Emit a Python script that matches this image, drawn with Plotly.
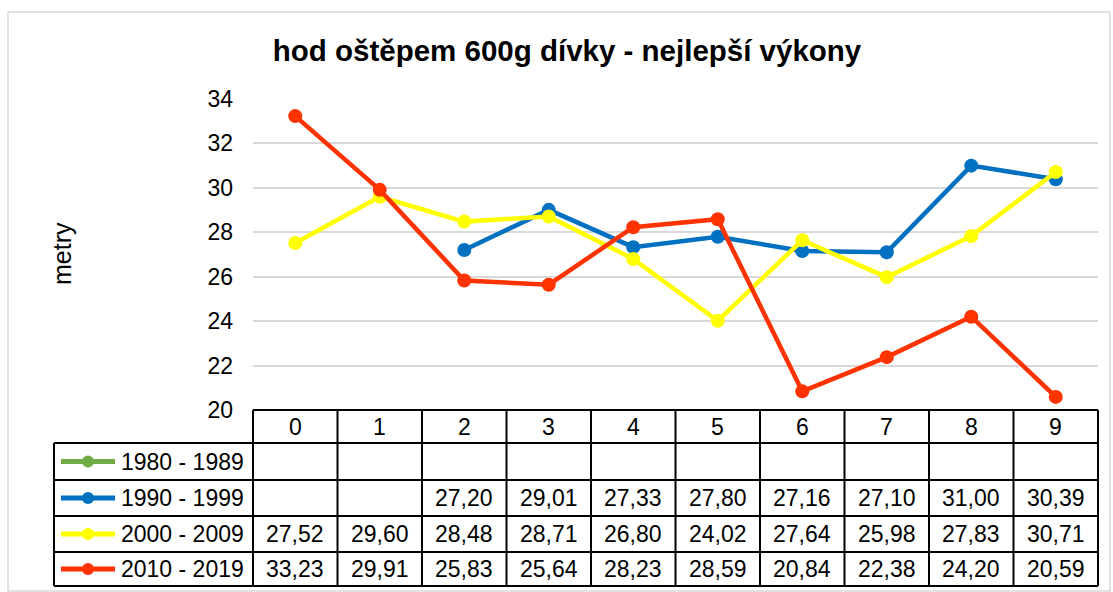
import plotly.graph_objects as go

# data
categories = ['0', '1', '2', '3', '4', '5', '6', '7', '8', '9']
series_names = ['1980 - 1989', '1990 - 1999', '2000 - 2009', '2010 - 2019']
s1980 = [None] * 10
s1990 = [None, None, 27.20, 29.01, 27.33, 27.80, 27.16, 27.10, 31.00, 30.39]
s2000 = [27.52, 29.60, 28.48, 28.71, 26.80, 24.02, 27.64, 25.98, 27.83, 30.71]
s2010 = [33.23, 29.91, 25.83, 25.64, 28.23, 28.59, 20.84, 22.38, 24.20, 20.59]
colors = ['#70AD47', '#0070C0', '#FFFF00', '#FF3300']
series = [s1980, s1990, s2000, s2010]

W, H = 1113, 592
L, R, T, B = 253, 1098, 99, 410
pw, ph = R - L, B - T
FONT = 'Liberation Sans, Arial, sans-serif'
FS = 23


def px_x(p):
    return (p - L) / pw


def px_y(p):
    return (B - p) / ph


fig = go.Figure()
for name, vals, col in zip(series_names, series, colors):
    fig.add_trace(go.Scatter(
        x=list(range(len(categories))), y=vals, name=name, mode='lines+markers',
        line=dict(color=col, width=4.5), marker=dict(color=col, size=14),
        connectgaps=False, showlegend=False))

shapes = []
annotations = []
line_style = dict(color='black', width=2)

# table geometry (pixels)
row_edges = [410, 443, 480, 516, 552, 586]
table_left = 54
ncol = len(categories)
col_edges = [px_x(L) + i / ncol * (px_x(R) - px_x(L)) for i in range(ncol + 1)]

# horizontal lines
shapes.append(dict(type='line', xref='paper', yref='paper', x0=0, x1=1,
                   y0=px_y(row_edges[0]), y1=px_y(row_edges[0]), line=line_style))
for r in row_edges[1:]:
    shapes.append(dict(type='line', xref='paper', yref='paper', x0=px_x(table_left), x1=1,
                       y0=px_y(r), y1=px_y(r), line=line_style))
# vertical lines
for cx in col_edges:
    shapes.append(dict(type='line', xref='paper', yref='paper', x0=cx, x1=cx,
                       y0=px_y(row_edges[0]), y1=px_y(row_edges[-1]), line=line_style))
shapes.append(dict(type='line', xref='paper', yref='paper', x0=px_x(table_left), x1=px_x(table_left),
                   y0=px_y(row_edges[1]), y1=px_y(row_edges[-1]), line=line_style))

# header row: category labels
hy = px_y((row_edges[0] + row_edges[1]) / 2)
for i, c in enumerate(categories):
    annotations.append(dict(x=i, y=hy, xref='x', yref='paper', text=c, showarrow=False,
                            xanchor='center', yanchor='middle',
                            font=dict(size=FS, color='black', family=FONT)))

# data rows
for k, (name, vals, col) in enumerate(zip(series_names, series, colors)):
    cy_px = (row_edges[k + 1] + row_edges[k + 2]) / 2
    cy = px_y(cy_px)
    # legend swatch
    shapes.append(dict(type='line', xref='paper', yref='paper', x0=px_x(61), x1=px_x(115),
                       y0=cy, y1=cy, line=dict(color=col, width=5)))
    shapes.append(dict(type='circle', xref='paper', yref='paper', x0=px_x(82), x1=px_x(94),
                       y0=px_y(cy_px + 6), y1=px_y(cy_px - 6),
                       fillcolor=col, line=dict(color=col, width=0)))
    annotations.append(dict(x=px_x(119), y=cy, xref='paper', yref='paper', text=name,
                            xanchor='left', yanchor='middle', showarrow=False,
                            font=dict(size=FS, color='black', family=FONT)))
    for i, v in enumerate(vals):
        if v is None:
            continue
        annotations.append(dict(x=i, y=cy, xref='x', yref='paper',
                                text=f'{v:.2f}'.replace('.', ','), showarrow=False,
                                xanchor='center', yanchor='middle',
                                font=dict(size=FS, color='black', family=FONT)))

# y axis title
annotations.append(dict(x=px_x(62), y=px_y(254), xref='paper', yref='paper', text='metry',
                        textangle=-90, showarrow=False, xanchor='center', yanchor='middle',
                        font=dict(size=25, color='black', family=FONT)))

# outer chart border
shapes.append(dict(type='rect', xref='paper', yref='paper', x0=px_x(8), x1=px_x(1110),
                   y0=px_y(591), y1=px_y(12), line=dict(color='#D9D9D9', width=1.5)))

fig.update_layout(
    width=W, height=H,
    margin=dict(l=L, r=W - R, t=T, b=H - B),
    paper_bgcolor='white', plot_bgcolor='white',
    title=dict(text='<b>hod oštěpem 600g dívky - nejlepší výkony</b>',
               x=567 / W, xref='container', xanchor='center',
               y=1 - 51 / H, yref='container', yanchor='middle',
               font=dict(size=29.5, color='black', family=FONT)),
    xaxis=dict(range=[-0.5, ncol - 0.5], showticklabels=False, showgrid=False,
               zeroline=False, showline=False, fixedrange=True),
    yaxis=dict(range=[20, 34], dtick=2, showgrid=True, gridcolor='#D9D9D9', gridwidth=2,
               zeroline=False, showline=False, ticklabelstandoff=19,
               tickfont=dict(size=FS, color='black', family=FONT)),
    shapes=shapes, annotations=annotations,
)

# drop the default body margin so the figure sits at the page origin
fig.write_html('out.html', config={'displayModeBar': False},
               post_script="document.body.style.margin='0px';")
